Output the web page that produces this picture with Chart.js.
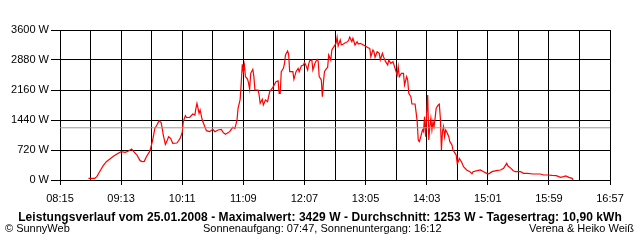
<!DOCTYPE html>
<html>
<head>
<meta charset="utf-8">
<script src="https://cdn.jsdelivr.net/npm/chart.js@4/dist/chart.umd.min.js"></script>
<style>
  html, body { margin: 0; padding: 0; background: #fff; }
  #wrap { position: relative; width: 640px; height: 240px; }
</style>
</head>
<body>
<div id="wrap"><canvas id="c" width="640" height="240"></canvas></div>
<script>
// ---- data ----
const times = ['08:42','08:48','08:50','08:53','08:56','08:59','09:02','09:06','09:09','09:13','09:17','09:20','09:23','09:25','09:28','09:31','09:33','09:35','09:37','09:40','09:41','09:43','09:45','09:47','09:49','09:51','09:52','09:53','09:55','09:57','09:58','10:00','10:02','10:06','10:09','10:11','10:12','10:14','10:15','10:18','10:21','10:23','10:24','10:25','10:27','10:28','10:30','10:33','10:34','10:37','10:40','10:42','10:45','10:48','10:50','10:52','10:56','10:59','11:01','11:03','11:04','11:06','11:07','11:08','11:09','11:10','11:11','11:13','11:14','11:15','11:16','11:18','11:19','11:20','11:23','11:24','11:25','11:27','11:28','11:30','11:32','11:34','11:37','11:40','11:42','11:43','11:44','11:45','11:47','11:48','11:49','11:51','11:52','11:53','11:56','11:57','11:59','12:01','12:02','12:04','12:06','12:07','12:08','12:10','12:11','12:12','12:14','12:15','12:17','12:19','12:20','12:21','12:23','12:24','12:25','12:26','12:28','12:29','12:30','12:32','12:33','12:35','12:37','12:38','12:39','12:41','12:42','12:44','12:45','12:48','12:49','12:50','12:52','12:53','12:55','12:57','12:58','13:00','13:03','13:05','13:07','13:09','13:10','13:12','13:13','13:14','13:16','13:18','13:19','13:21','13:22','13:24','13:26','13:27','13:29','13:31','13:33','13:35','13:36','13:37','13:39','13:41','13:42','13:44','13:45','13:46','13:48','13:49','13:52','13:53','13:54','13:55','13:56','13:57','13:59','14:00','14:01','14:02','14:03','14:04','14:05','14:06','14:07','14:08','14:09','14:10','14:11','14:12','14:13','14:14','14:15','14:16','14:17','14:18','14:19','14:20','14:21','14:22','14:24','14:25','14:27','14:28','14:30','14:31','14:32','14:33','14:34','14:36','14:38','14:41','14:44','14:46','14:47','14:51','14:54','14:57','15:00','15:02','15:05','15:09','15:13','15:16','15:17','15:19','15:20','15:23','15:25','15:27','15:32','15:35','15:39','15:44','15:47','15:51','15:54','15:58','16:02','16:06','16:10','16:13','16:15','16:18','16:21','16:22'];
const watts = [40,40,80,216,344,440,496,576,624,680,664,696,744,680,600,464,440,448,560,680,760,960,1240,1320,1424,1380,1240,1080,856,960,1040,1000,880,888,1000,1144,1400,1544,1500,1500,1584,1560,1720,1840,1600,1680,1440,1240,1184,1160,1216,1160,1200,1216,1136,1096,1160,1264,1240,1440,1720,1936,2320,2776,2600,2760,2480,2424,2320,2176,2560,2656,2480,2160,2160,2040,1840,1936,1800,1920,1880,2120,2224,2360,2380,2080,2080,2600,2680,2784,3000,3096,3020,2600,2600,2416,2600,2680,2600,2736,2760,2816,2780,2640,2780,2864,2880,2640,2800,2896,2860,2480,2400,2000,2336,2600,2680,2700,3000,2880,3120,3200,3280,3424,3216,3360,3240,3264,3280,3320,3360,3429,3320,3400,3240,3320,3264,3280,3240,3210,3180,3160,2960,3120,3080,2944,3080,3040,2880,3040,2960,2840,2760,2880,2800,2840,2680,2520,2720,2480,2560,2560,2280,2480,2400,2080,2000,1824,1824,1616,1400,960,920,1000,1200,1160,1520,1040,1600,2040,960,1280,1480,1200,1400,1280,1480,1720,1760,1800,1820,1480,720,1160,1280,1040,1200,1160,1040,920,840,720,640,600,400,440,520,440,320,240,200,150,200,224,240,200,160,150,200,224,240,280,320,400,340,280,230,200,200,160,160,144,144,144,120,120,110,104,64,80,100,64,40,0];
const averageW = 1253;
const xTickLabels = ['08:15','09:13','10:11','11:09','12:07','13:05','14:03','15:01','15:59','16:57'];
const yTickValues = [0,720,1440,2160,2880,3600];
const titleText = 'Leistungsverlauf vom 25.01.2008 - Maximalwert: 3429 W - Durchschnitt: 1253 W - Tagesertrag: 10,90 kWh';
const footerLeft = '\u00A9 SunnyWeb';
const footerCenter = 'Sonnenaufgang: 07:47, Sonnenuntergang: 16:12';
const footerRight = 'Verena & Heiko Wei\u00DF';

// ---- helpers ----
const toMin = s => { const p = s.split(':'); return (+p[0]) * 60 + (+p[1]); };
const xMin = toMin(xTickLabels[0]);
const xMax = toMin(xTickLabels[xTickLabels.length - 1]);
const labelStep = toMin(xTickLabels[1]) - toMin(xTickLabels[0]);
const gridStep = labelStep / 2;
const xGrid = [];
for (let v = xMin; v <= xMax + 0.001; v += gridStep) xGrid.push(v);

const powerPoints = times.map((t, i) => ({ x: toMin(t), y: watts[i] }));
const avgPoints = [{ x: xMin, y: averageW }, { x: xMax, y: averageW }];

const FONT = '"Liberation Sans", Arial, sans-serif';

const textPlugin = {
  id: 'texts',
  afterDraw(chart) {
    const ctx = chart.ctx;
    ctx.save();
    ctx.fillStyle = '#000';
    ctx.textBaseline = 'alphabetic';
    ctx.font = 'bold 12px ' + FONT;
    ctx.textAlign = 'center';
    if ('letterSpacing' in ctx) ctx.letterSpacing = '0.07px';
    ctx.fillText(titleText, 320, 221);
    if ('letterSpacing' in ctx) ctx.letterSpacing = '0px';
    ctx.font = '11px ' + FONT;
    ctx.textAlign = 'left';
    ctx.fillText(footerLeft, 5, 232);
    ctx.fillText(footerCenter, 203, 232);
    ctx.textAlign = 'right';
    ctx.fillText(footerRight, 634, 232);
    ctx.restore();
  }
};

new Chart(document.getElementById('c'), {
  type: 'line',
  data: {
    datasets: [
      { data: avgPoints, borderColor: '#999999', borderWidth: 1, pointRadius: 0, tension: 0 },
      { data: powerPoints, borderColor: '#ff0000', borderWidth: 1.2, pointRadius: 0, tension: 0 }
    ]
  },
  options: {
    responsive: false,
    animation: false,
    events: [],
    layout: { padding: { left: 0, top: 30, right: 30, bottom: 0 } },
    plugins: { legend: { display: false }, tooltip: { enabled: false }, title: { display: false } },
    scales: {
      x: {
        type: 'linear',
        min: xMin, max: xMax,
        afterBuildTicks: s => { s.ticks = xGrid.map(v => ({ value: v })); },
        afterFit: s => { s.height = 60; },
        grid: {
          color: '#000', lineWidth: 1, tickLength: 5,
          tickColor: c => (c.index % 2 === 0 ? '#000' : 'rgba(0,0,0,0)')
        },
        border: { display: true, color: '#000', width: 1 },
        ticks: {
          autoSkip: false, maxRotation: 0, minRotation: 0, padding: 7,
          color: '#000', font: { family: FONT, size: 11 },
          callback: (v, i) => (i % 2 === 0 ? xTickLabels[i / 2] : '')
        }
      },
      y: {
        min: 0, max: 3600,
        afterBuildTicks: s => { s.ticks = yTickValues.map(v => ({ value: v })); },
        afterFit: s => { s.width = 60; },
        grid: { color: '#000', lineWidth: 1, tickLength: 9, tickColor: '#000' },
        border: { display: true, color: '#000', width: 1 },
        ticks: {
          padding: 2, color: '#000', font: { family: FONT, size: 11 },
          callback: v => v + ' W'
        }
      }
    }
  },
  plugins: [textPlugin]
});
</script>
</body>
</html>
